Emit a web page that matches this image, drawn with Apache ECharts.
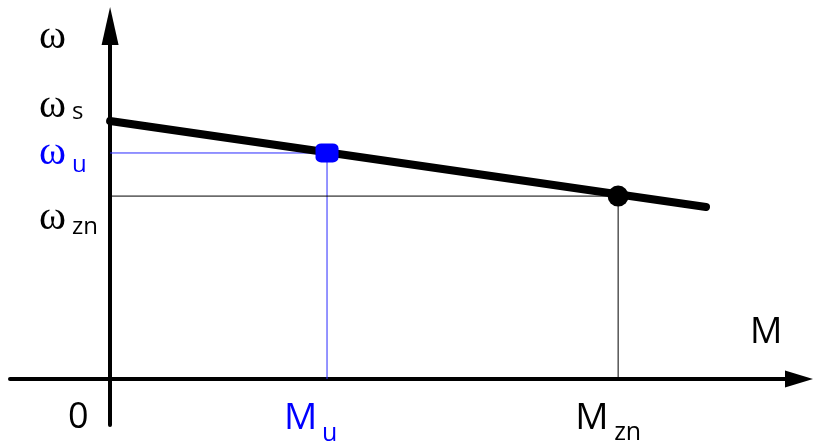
<!DOCTYPE html>
<html><head><meta charset="utf-8">
<script src="https://cdn.jsdelivr.net/npm/echarts@6/dist/echarts.min.js"></script>
<style>html,body{margin:0;padding:0;background:#fff}#c{width:813px;height:444px}</style>
</head><body><div id="c"></div>
<script>
// Data, normalized: M_zn = 1, omega_s = 1
const charTorque = [0, 1.173];     // M along the characteristic line
const charSpeed  = [1.0, 0.667];   // omega along the characteristic line
const pointU  = [0.427, 0.876];    // (M_u, omega_u)
const pointZN = [1.0, 0.709];      // (M_zn, omega_zn)
const omegaS = 1.0;
const xRange = [-0.197, 1.356];
const yRange = [-0.178, 1.368];
const yTickSubs = ['s', 'u', 'zn'];
const xTickSubs = ['', 'u', 'zn'];
const axisNames = ['M', 'ω'];

const BLUE = '#0000ff';
const chart = echarts.init(document.getElementById('c'), null, {renderer: 'canvas'});

const axisCommon = {
  type: 'value',
  axisTick: {show: false},
  axisLabel: {show: false},
  splitLine: {show: false}
};

chart.setOption({
  animation: false,
  backgroundColor: '#fff',
  grid: {left: 10, right: 14, top: 26, bottom: 19, containLabel: false},
  xAxis: Object.assign({}, axisCommon, {
    min: xRange[0], max: xRange[1],
    axisLine: {show: true, onZero: true, symbol: ['none', 'triangle'], symbolSize: [17, 28],
      lineStyle: {color: '#000', width: 4}}
  }),
  yAxis: Object.assign({}, axisCommon, {
    min: yRange[0], max: yRange[1],
    axisLine: {show: true, onZero: true, symbol: ['none', 'triangle'], symbolSize: [17, 38],
      lineStyle: {color: '#000', width: 4}}
  }),
  series: [
    {type: 'line', silent: true, symbol: 'none', z: 1,
      lineStyle: {color: '#2a2aff', width: 1},
      data: [[0, pointU[1]], [pointU[0], pointU[1]], [pointU[0], 0]]},
    {type: 'line', silent: true, symbol: 'none', z: 1,
      lineStyle: {color: '#000', width: 1},
      data: [[0, pointZN[1]], [pointZN[0], pointZN[1]], [pointZN[0], 0]]},
    {type: 'line', silent: true, symbol: 'none', z: 3,
      lineStyle: {color: '#000', width: 8, cap: 'round'},
      data: charTorque.map((m, i) => [m, charSpeed[i]])},
    {type: 'scatter', silent: true, z: 4, symbol: 'roundRect', symbolSize: [23, 19],
      itemStyle: {color: BLUE, opacity: 1}, data: [pointU]},
    {type: 'scatter', silent: true, z: 4, symbol: 'circle', symbolSize: 21,
      itemStyle: {color: '#000', opacity: 1}, data: [pointZN]}
  ]
});

// Labels anchored to data positions through the chart's scales
const px = (p) => chart.convertToPixel({gridIndex: 0}, p);
const els = [];
function txt(anchor, dx, dy, text, font, size, color) {
  const a = px(anchor);
  els.push({type: 'text', x: a[0] + dx, y: a[1] + dy, z: 10,
    style: {text: text, fill: color, font: size + 'px ' + font, align: 'left', verticalAlign: 'middle'}});
}
const SERIF = '"Liberation Serif", serif';
const SANS = '"Open Sans", sans-serif';
const yVals = [omegaS, pointU[1], pointZN[1]];
const yColors = ['#000', BLUE, '#000'];
const yMainDy = [-15, 0, 22];
const ySubDy = [-9, 12, 31];
// axis names
txt([0, yRange[1]], -71, 11, axisNames[1], SERIF, 41, '#000');
txt([xRange[1], 0], -49, -46, axisNames[0], SANS, 36, '#000');
yVals.forEach((v, i) => {
  txt([0, v], -71, yMainDy[i], 'ω', SERIF, 41, yColors[i]);
  txt([0, v], -38, ySubDy[i], yTickSubs[i], SANS, 24, yColors[i]);
});
const xVals = [0, pointU[0], pointZN[0]];
const xColors = ['#000', BLUE, '#000'];
txt([xVals[0], 0], -42, 39, '0', SANS, 36, '#000');
[1, 2].forEach((i) => {
  txt([xVals[i], 0], -43, 39, 'M', SANS, 37, xColors[i]);
  txt([xVals[i], 0], i === 1 ? -5 : -4, i === 1 ? 55 : 54, xTickSubs[i], SANS, 25, xColors[i]);
});
chart.setOption({graphic: {elements: els}});
</script></body></html>
